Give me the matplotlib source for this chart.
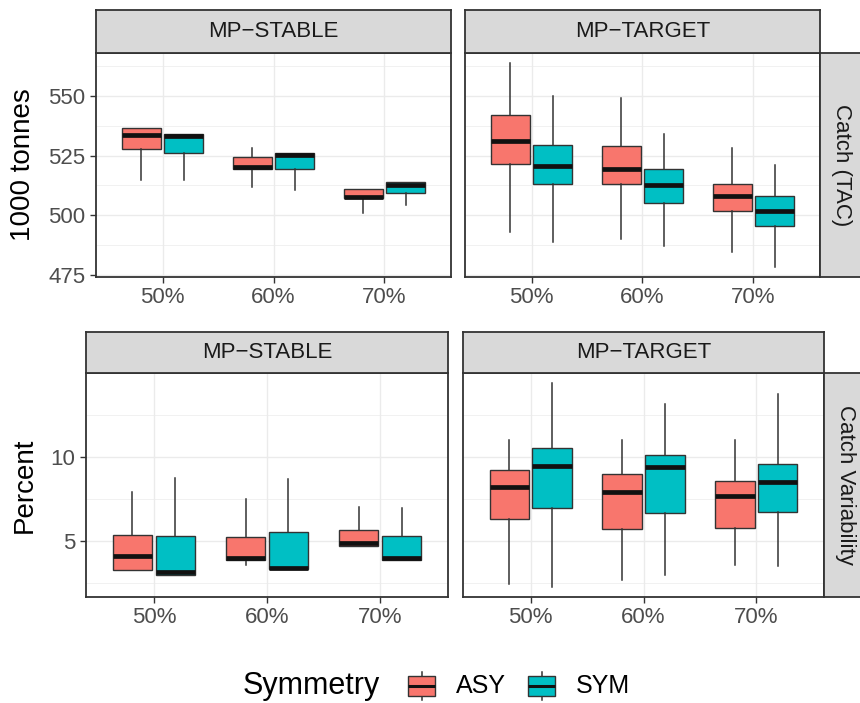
import numpy as np
import matplotlib
matplotlib.use("Agg")
import matplotlib.pyplot as plt
from matplotlib.patches import Rectangle

plt.rcParams['font.family'] = ['Liberation Sans', 'DejaVu Sans']

# categories and groups
cats = ['50%', '60%', '70%']
groups = ['ASY', 'SYM']
strategies = ['MP\u2212STABLE', 'MP\u2212TARGET']

# five-number summaries per category: (whisker low, q1, median, q3, whisker high)
tac_stable_asy = [(514.9, 527.8, 533.5, 536.4, 536.4),
                  (511.8, 519.2, 520.2, 524.3, 528.1),
                  (501.1, 507.2, 507.8, 511.1, 511.1)]
tac_stable_sym = [(514.9, 526.0, 533.0, 534.0, 534.0),
                  (510.7, 519.2, 525.3, 526.1, 526.1),
                  (504.2, 509.5, 512.9, 514.1, 514.1)]
tac_target_asy = [(493.2, 521.6, 531.2, 541.8, 563.6),
                  (490.3, 513.2, 519.5, 529.0, 549.2),
                  (484.7, 501.7, 507.9, 513.2, 528.1)]
tac_target_sym = [(488.9, 513.2, 520.8, 529.6, 549.7),
                  (487.1, 505.3, 512.5, 519.3, 534.0),
                  (478.5, 495.6, 501.8, 507.9, 521.2)]

cv_stable_asy = [(3.30, 3.30, 4.15, 5.38, 7.92),
                 (3.61, 3.91, 4.03, 5.26, 7.48),
                 (4.70, 4.70, 4.90, 5.66, 7.05)]
cv_stable_sym = [(3.02, 3.02, 3.16, 5.28, 8.75),
                 (3.32, 3.32, 3.39, 5.56, 8.67),
                 (3.87, 3.87, 3.99, 5.30, 6.95)]
cv_target_asy = [(2.48, 6.31, 8.20, 9.25, 11.01),
                 (2.68, 5.70, 7.92, 9.01, 11.01),
                 (3.61, 5.78, 7.68, 8.55, 11.01)]
cv_target_sym = [(2.29, 6.99, 9.45, 10.56, 14.39),
                 (2.98, 6.67, 9.39, 10.12, 13.16),
                 (3.51, 6.73, 8.54, 9.60, 13.77)]

colors = {'ASY': '#F8766D', 'SYM': '#00BFC4'}
EDGE = '#333333'
GRID = '#EBEBEB'
STRIP = '#D9D9D9'
TICKC = '#4D4D4D'

W, H = 860, 703
fig = plt.figure(figsize=(W / 100, H / 100), dpi=100)


def rect(x0, y0, x1, y1):
    # pixel box (top-left origin) -> figure fraction
    return [x0 / W, 1 - y1 / H, (x1 - x0) / W, (y1 - y0) / H]


def row_limits(*sets):
    vals = [v for s in sets for row in s for v in row]
    lo, hi = min(vals), max(vals)
    pad = 0.05 * (hi - lo)
    return lo - pad, hi + pad


def draw_panel(box, data, ylim, major, minor, show_y):
    ax = fig.add_axes(rect(*box))
    for k, g in enumerate(groups):
        stats = [dict(whislo=s[0], q1=s[1], med=s[2], q3=s[3], whishi=s[4])
                 for s in data[g]]
        pos = np.arange(1, len(cats) + 1) + (-0.19 if k == 0 else 0.19)
        ax.bxp(stats, positions=pos, widths=0.35, patch_artist=True,
               showcaps=False, showfliers=False,
               boxprops=dict(facecolor=colors[g], edgecolor=EDGE, linewidth=1.0),
               whiskerprops=dict(color=EDGE, linewidth=1.1),
               medianprops=dict(color='#111111', linewidth=3.4,
                                solid_capstyle='butt'),
               zorder=3)
    ax.set_xlim(0.4, 3.6)
    ax.set_ylim(*ylim)
    ax.set_xticks(np.arange(1, len(cats) + 1))
    ax.set_xticklabels(cats)
    ax.set_yticks(major)
    ax.set_yticks(minor, minor=True)
    ax.set_axisbelow(True)
    ax.grid(True, which='major', color=GRID, linewidth=1.0)
    ax.grid(True, which='minor', axis='y', color=GRID, linewidth=0.5)
    ax.tick_params(which='major', length=4.5, width=1.0, color=EDGE,
                   labelsize=16, labelcolor=TICKC, pad=3)
    ax.tick_params(which='minor', length=0)
    if not show_y:
        ax.tick_params(axis='y', which='major', length=0, labelleft=False)
    for sp in ax.spines.values():
        sp.set_color(EDGE)
        sp.set_linewidth(1.3)
    return ax


def strip(box, label, rotation=0):
    ax = fig.add_axes(rect(*box))
    ax.set_facecolor(STRIP)
    ax.set_xticks([])
    ax.set_yticks([])
    for sp in ax.spines.values():
        sp.set_color(EDGE)
        sp.set_linewidth(1.3)
    ax.text(0.5, 0.5, label, transform=ax.transAxes, ha='center', va='center',
            fontsize=16, color='#1A1A1A', rotation=rotation)


# top row: catch (TAC)
tac_lim = row_limits(tac_stable_asy, tac_stable_sym, tac_target_asy, tac_target_sym)
tac_major = [475, 500, 525, 550]
tac_minor = [487.5, 512.5, 537.5, 562.5]
draw_panel((96, 53, 451, 277), {'ASY': tac_stable_asy, 'SYM': tac_stable_sym},
           tac_lim, tac_major, tac_minor, True)
draw_panel((465, 53, 820, 277), {'ASY': tac_target_asy, 'SYM': tac_target_sym},
           tac_lim, tac_major, tac_minor, False)
strip((96, 10, 451, 53), strategies[0])
strip((465, 10, 820, 53), strategies[1])
strip((820, 53, 863, 277), 'Catch (TAC)', rotation=-90)
fig.text(23 / W, 1 - 165 / H, '1000 tonnes', rotation=90, ha='center',
         va='center', fontsize=20, color='black')

# bottom row: catch variability
cv_lim = row_limits(cv_stable_asy, cv_stable_sym, cv_target_asy, cv_target_sym)
cv_major = [5, 10]
cv_minor = [2.5, 7.5, 12.5]
draw_panel((86, 373, 448, 597), {'ASY': cv_stable_asy, 'SYM': cv_stable_sym},
           cv_lim, cv_major, cv_minor, True)
draw_panel((463, 373, 824, 597), {'ASY': cv_target_asy, 'SYM': cv_target_sym},
           cv_lim, cv_major, cv_minor, False)
strip((86, 332, 448, 373), strategies[0])
strip((463, 332, 824, 373), strategies[1])
strip((824, 373, 867, 597), 'Catch Variability', rotation=-90)
fig.text(25 / W, 1 - 485 / H, 'Percent', rotation=90, ha='center',
         va='center', fontsize=20, color='black')

# legend
lax = fig.add_axes([0, 0, 1, 1 - 625 / H])
lax.set_xlim(0, W)
lax.set_ylim(H, 625)
lax.axis('off')
lax.text(243, 686, 'Symmetry', ha='left', va='center', fontsize=22)
for g, kx, tx in [('ASY', 408, 456), ('SYM', 528, 576)]:
    lax.plot([kx + 13.5, kx + 13.5], [672, 700], color=EDGE, lw=1.1)
    lax.add_patch(Rectangle((kx, 676), 27, 20, facecolor=colors[g],
                            edgecolor=EDGE, lw=1.0, zorder=3))
    lax.plot([kx, kx + 27], [686, 686], color='#111111', lw=2.2,
             solid_capstyle='butt', zorder=4)
    lax.text(tx, 686, g, ha='left', va='center', fontsize=18)

fig.savefig('out.png', dpi=100, facecolor='white')
